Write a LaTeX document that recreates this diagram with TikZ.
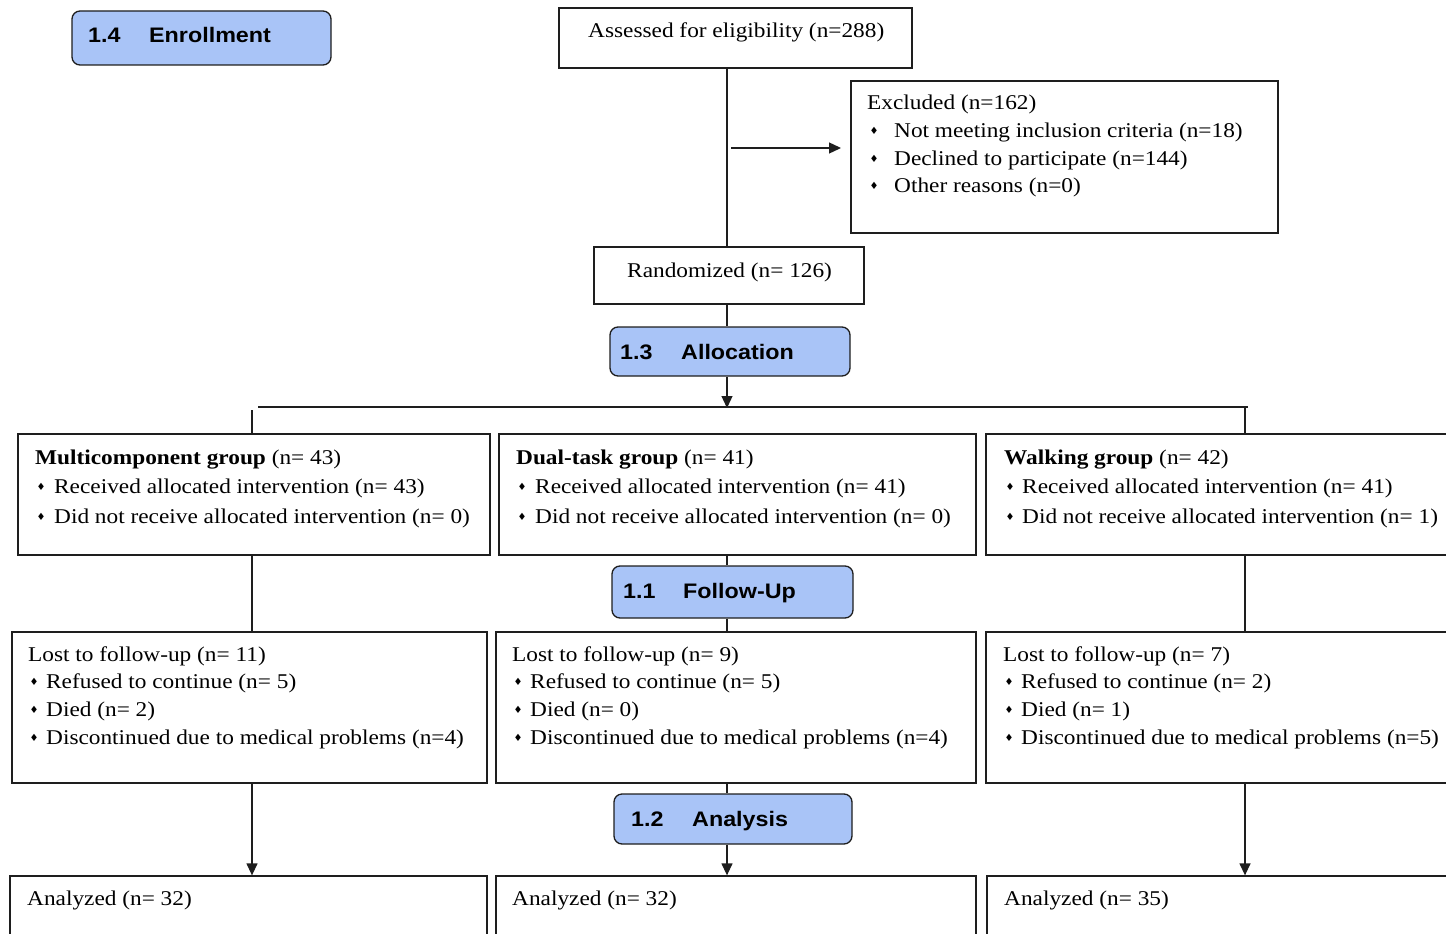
\documentclass[tikz,border=0pt]{standalone}
\usepackage{fontspec}
\setmainfont[FakeStretch=1.11]{Liberation Serif}
\setsansfont[FakeStretch=1.11]{Liberation Sans}
\newfontfamily\dvs{DejaVu Sans}
\usetikzlibrary{arrows.meta}
\definecolor{stageblue}{RGB}{169,196,247}
\definecolor{ink}{RGB}{30,30,30}
\newcommand\mkbox[6]{\node[#6, minimum width={#4-#2}, minimum height={#5-#3}] (#1) at ({(#2+#4)/2},{(#3+#5)/2}) {};}
\newcommand\li[4]{\node[txt] (#1) at (#2,#3) {#4};}
\newcommand\bu[3]{\node[bul] (#1) at (#2,#3) {♦};}
\begin{document}
\begin{tikzpicture}[x=1pt,y=-1pt,
  box/.style={draw=ink, line width=1.3pt, inner sep=0pt, fill=white},
  stage/.style={draw=ink, line width=1.3pt, rounded corners=8pt, fill=stageblue, inner sep=0pt},
  txt/.style={anchor=base west, inner sep=0pt, font=\fontsize{21}{25}\selectfont},
  stxt/.style={anchor=base west, inner sep=0pt, font=\sffamily\bfseries\fontsize{21}{25}\selectfont},
  bul/.style={anchor=center, inner sep=0pt, font=\dvs\fontsize{10}{10}\selectfont},
  conn/.style={line width=1.3pt, draw=ink},
  arr/.style={conn, -{Triangle[length=12pt,width=11pt]}}]
\useasboundingbox (0,0) rectangle (1446,934);
\clip (0,0) rectangle (1446,934);

% ---------- boxes ----------
\mkbox{enr}{72}{11}{331}{65}{stage}
\mkbox{assess}{559}{8}{912}{68}{box}
\mkbox{excl}{851}{81}{1278}{233}{box}
\mkbox{rand}{594}{247}{864}{304}{box}
\mkbox{alloc}{610}{327}{850}{376}{stage}
\mkbox{gm}{18}{434}{490}{555}{box}
\mkbox{gd}{499}{434}{976}{555}{box}
\mkbox{gw}{986}{434}{1470}{555}{box}
\mkbox{fu}{612}{566}{853}{618}{stage}
\mkbox{lm}{12}{632}{487}{783}{box}
\mkbox{ld}{496}{632}{976}{783}{box}
\mkbox{lw}{986}{632}{1470}{783}{box}
\mkbox{ana}{614}{794}{852}{844}{stage}
\mkbox{am}{10}{876}{487}{960}{box}
\mkbox{ad}{496}{876}{976}{960}{box}
\mkbox{aw}{987}{876}{1470}{960}{box}

% ---------- stage labels ----------
\node[stxt] (enrN) at (88,43) {1.4};
\node[stxt] (enrT) at (149,43) {Enrollment};
\node[stxt] (allN) at (620,359) {1.3};
\node[stxt] (allT) at (681,359) {Allocation};
\node[stxt] (fuN) at (623,598) {1.1};
\node[stxt] (fuT) at (683,598) {Follow-Up};
\node[stxt] (anN) at (631,826) {1.2};
\node[stxt] (anT) at (692,826) {Analysis};

% ---------- top texts ----------
\li{tA}{588}{38}{Assessed for eligibility (n=288)}
\li{tE0}{867}{110}{Excluded (n=162)}
\bu{bE1}{874}{131}\li{tE1}{894}{137}{Not meeting inclusion criteria (n=18)}
\bu{bE2}{874}{159}\li{tE2}{894}{165}{Declined to participate (n=144)}
\bu{bE3}{874}{186}\li{tE3}{894}{192}{Other reasons (n=0)}
\li{tR}{627}{277}{Randomized (n= 126)}

% ---------- groups ----------
\li{gm0}{35}{464}{\textbf{Multicomponent group} (n= 43)}
\bu{bgm1}{41}{487}\li{gm1}{54}{493}{Received allocated intervention (n= 43)}
\bu{bgm2}{41}{517}\li{gm2}{54}{523}{Did not receive allocated intervention (n= 0)}
\li{gd0}{516}{464}{\textbf{Dual-task group} (n= 41)}
\bu{bgd1}{522}{487}\li{gd1}{535}{493}{Received allocated intervention (n= 41)}
\bu{bgd2}{522}{517}\li{gd2}{535}{523}{Did not receive allocated intervention (n= 0)}
\li{gw0}{1004}{464}{\textbf{Walking group} (n= 42)}
\bu{bgw1}{1010}{487}\li{gw1}{1022}{493}{Received allocated intervention (n= 41)}
\bu{bgw2}{1010}{517}\li{gw2}{1022}{523}{Did not receive allocated intervention (n= 1)}

% ---------- lost to follow-up ----------
\li{lm0}{28}{661}{Lost to follow-up (n= 11)}
\bu{blm1}{34}{682}\li{lm1}{46}{688}{Refused to continue (n= 5)}
\bu{blm2}{34}{710}\li{lm2}{46}{716}{Died (n= 2)}
\bu{blm3}{34}{738}\li{lm3}{46}{744}{Discontinued due to medical problems (n=4)}
\li{ld0}{512}{661}{Lost to follow-up (n= 9)}
\bu{bld1}{518}{682}\li{ld1}{530}{688}{Refused to continue (n= 5)}
\bu{bld2}{518}{710}\li{ld2}{530}{716}{Died (n= 0)}
\bu{bld3}{518}{738}\li{ld3}{530}{744}{Discontinued due to medical problems (n=4)}
\li{lw0}{1003}{661}{Lost to follow-up (n= 7)}
\bu{blw1}{1009}{682}\li{lw1}{1021}{688}{Refused to continue (n= 2)}
\bu{blw2}{1009}{710}\li{lw2}{1021}{716}{Died (n= 1)}
\bu{blw3}{1009}{738}\li{lw3}{1021}{744}{Discontinued due to medical problems (n=5)}

% ---------- analyzed ----------
\li{am0}{27}{905}{Analyzed (n= 32)}
\li{ad0}{512}{905}{Analyzed (n= 32)}
\li{aw0}{1004}{905}{Analyzed (n= 35)}

% ---------- connectors ----------
\coordinate (cx) at (727,0);
\coordinate (xl) at (252,0);
\coordinate (xr) at (1245,0);
\draw[conn] (assess.south -| cx) -- (rand.north -| cx);
\coordinate (exA) at (731,148);
\coordinate (exB) at (841,148);
\draw[arr] (exA) -- (exB);
\draw[conn] (rand.south -| cx) -- (alloc.north -| cx);
\coordinate (split) at (727,408);
\draw[arr] (alloc.south -| cx) -- (split);
\coordinate (hl) at (258,407);
\coordinate (hr) at (1248,407);
\draw[conn] (hl) -- (hr);
\coordinate (vl) at (252,410);
\draw[conn] (vl) -- (gm.north -| xl);
\draw[conn] (hr -| xr) -- (gw.north -| xr);
\draw[conn] (gm.south -| xl) -- (lm.north -| xl);
\draw[conn] (gd.south -| cx) -- (fu.north -| cx);
\draw[conn] (fu.south -| cx) -- (ld.north -| cx);
\draw[conn] (gw.south -| xr) -- (lw.north -| xr);
\draw[arr] (lm.south -| xl) -- (am.north -| xl);
\draw[conn] (ld.south -| cx) -- (ana.north -| cx);
\draw[arr] (ana.south -| cx) -- (ad.north -| cx);
\draw[arr] (lw.south -| xr) -- (aw.north -| xr);
\end{tikzpicture}
\end{document}
